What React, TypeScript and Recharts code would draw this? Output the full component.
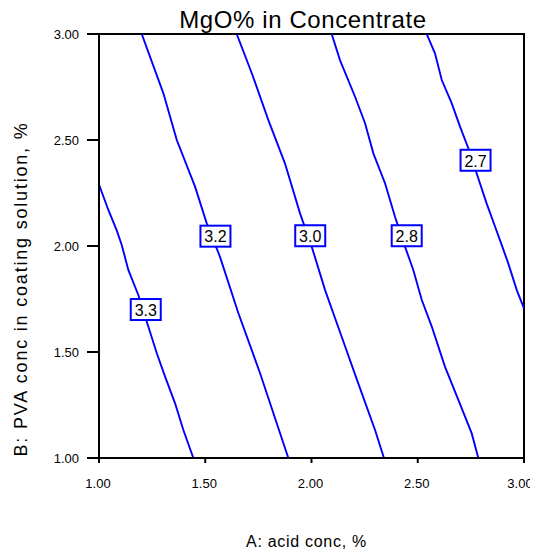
import React from "react";
import {
  ComposedChart,
  Line,
  XAxis,
  YAxis,
  Scatter,
  ReferenceArea,
  Label,
} from "recharts";

// ---- data ----
const xTicks = [1.0, 1.5, 2.0, 2.5, 3.0];
const yTicks = [1.0, 1.5, 2.0, 2.5, 3.0];

const title = "MgO% in Concentrate";
const xLabel = "A: acid conc, %";
const yLabel = "B: PVA conc in coating solution, %";

const contour33 = [
  { a: 1.0, b: 2.29 }, { a: 1.044, b: 2.17 }, { a: 1.083, b: 2.075 },
  { a: 1.107, b: 2.005 }, { a: 1.138, b: 1.887 }, { a: 1.185, b: 1.769 },
  { a: 1.232, b: 1.62 }, { a: 1.272, b: 1.494 }, { a: 1.311, b: 1.384 },
  { a: 1.358, b: 1.258 }, { a: 1.397, b: 1.132 }, { a: 1.444, b: 1.0 },
];
const contour32 = [
  { a: 1.201, b: 3.0 }, { a: 1.303, b: 2.72 }, { a: 1.366, b: 2.5 },
  { a: 1.452, b: 2.28 }, { a: 1.507, b: 2.107 }, { a: 1.569, b: 1.95 },
  { a: 1.656, b: 1.683 }, { a: 1.758, b: 1.4 }, { a: 1.891, b: 1.0 },
];
const contour30 = [
  { a: 1.648, b: 3.0 }, { a: 1.719, b: 2.815 }, { a: 1.797, b: 2.594 },
  { a: 1.875, b: 2.39 }, { a: 1.946, b: 2.154 }, { a: 2.001, b: 1.997 },
  { a: 2.064, b: 1.792 }, { a: 2.142, b: 1.572 }, { a: 2.22, b: 1.352 },
  { a: 2.299, b: 1.132 }, { a: 2.341, b: 1.0 },
];
const contour28 = [
  { a: 2.095, b: 3.0 }, { a: 2.134, b: 2.877 }, { a: 2.205, b: 2.704 },
  { a: 2.252, b: 2.579 }, { a: 2.291, b: 2.437 }, { a: 2.346, b: 2.296 },
  { a: 2.393, b: 2.138 }, { a: 2.44, b: 1.997 }, { a: 2.479, b: 1.887 },
  { a: 2.519, b: 1.745 }, { a: 2.566, b: 1.62 }, { a: 2.628, b: 1.431 },
  { a: 2.691, b: 1.274 }, { a: 2.754, b: 1.116 }, { a: 2.785, b: 1.0 },
];
const contour27 = [
  { a: 2.542, b: 3.0 }, { a: 2.581, b: 2.909 }, { a: 2.613, b: 2.783 },
  { a: 2.66, b: 2.673 }, { a: 2.699, b: 2.563 }, { a: 2.738, b: 2.461 },
  { a: 2.777, b: 2.343 }, { a: 2.824, b: 2.201 }, { a: 2.864, b: 2.091 },
  { a: 2.895, b: 2.005 }, { a: 2.926, b: 1.918 }, { a: 2.966, b: 1.792 },
  { a: 3.0, b: 1.706 },
];
const contours = [contour33, contour32, contour30, contour28, contour27];

const contourLabels = [
  { a: 1.22, b: 1.698, text: "3.3" },
  { a: 1.548, b: 2.044, text: "3.2" },
  { a: 1.994, b: 2.046, text: "3.0" },
  { a: 2.448, b: 2.046, text: "2.8" },
  { a: 2.772, b: 2.402, text: "2.7" },
];

// ---- styles ----
const FONT = "'Liberation Sans', Arial, sans-serif";
const BLUE = "#0000ff";

const LabelBox = (props: any) => {
  const { cx, cy, payload } = props;
  if (cx == null || cy == null) return null;
  return (
    <g>
      <rect x={cx - 15} y={cy - 11} width={30} height={21} fill="#fff" stroke={BLUE} strokeWidth={2} />
      <text x={cx} y={cy} dy="0.36em" textAnchor="middle" fontFamily={FONT} fontSize={16} fill="#000">
        {payload.text}
      </text>
    </g>
  );
};

const XTick = (props: any) => {
  const { x, y, payload, index, visibleTicksCount } = props;
  const last = index === (visibleTicksCount ?? xTicks.length) - 1;
  return (
    <text
      x={x - (last ? 4 : 1)}
      y={y}
      dy="0.71em"
      textAnchor="middle"
      fontFamily={FONT}
      fontSize={13}
      fill="#000"
    >
      {Number(payload.value).toFixed(2)}
    </text>
  );
};

const XTitle = (props: any) => {
  const vb = props.viewBox || {};
  return (
    <text
      x={vb.x + vb.width / 2 - 5}
      y={vb.y + 88.7}
      textAnchor="middle"
      fontFamily={FONT}
      fontSize={16}
      letterSpacing={0.7}
      fill="#000"
    >
      {xLabel}
    </text>
  );
};

const YTitle = (props: any) => {
  const vb = props.viewBox || {};
  const cx = 19;
  const cy = vb.y + vb.height / 2 + 43;
  return (
    <text
      x={cx}
      y={cy}
      transform={`rotate(-90 ${cx} ${cy})`}
      textAnchor="middle"
      fontFamily={FONT}
      fontSize={18}
      letterSpacing={1.8}
      fill="#000"
    >
      {yLabel}
    </text>
  );
};

export default function App() {
  return (
    <div style={{ position: "relative", width: 530, height: 546 }}>
      <ComposedChart
        width={530}
        height={546}
        margin={{ top: 26, right: 14, bottom: 0, left: 0 }}
      >
        <XAxis
          type="number"
          dataKey="a"
          domain={[1, 3]}
          ticks={xTicks}
          interval={0}
          allowDataOverflow
          height={96}
          tickSize={5}
          tickMargin={16}
          tick={<XTick />}
          axisLine={{ stroke: "#000", strokeWidth: 2 }}
          tickLine={{ stroke: "#000", strokeWidth: 2 }}
        >
          <Label content={<XTitle />} />
        </XAxis>
        <YAxis
          type="number"
          dataKey="b"
          domain={[1, 3]}
          ticks={yTicks}
          interval={0}
          allowDataOverflow
          width={91}
          tickSize={12}
          tickMargin={8}
          tickFormatter={(v: number) => v.toFixed(2)}
          tick={{ fill: "#000", fontSize: 13, fontFamily: FONT }}
          axisLine={{ stroke: "#000", strokeWidth: 2 }}
          tickLine={{ stroke: "#000", strokeWidth: 2 }}
        >
          <Label content={<YTitle />} />
        </YAxis>
        {contours.map((c, i) => (
          <Line
            key={i}
            data={c}
            dataKey="b"
            type="linear"
            stroke={BLUE}
            strokeWidth={1.9}
            dot={false}
            activeDot={false}
            isAnimationActive={false}
          />
        ))}
        <ReferenceArea
          x1={1}
          x2={3}
          y1={1}
          y2={3}
          fill="none"
          stroke="#000"
          strokeWidth={2}
          ifOverflow="visible"
        />
        <Scatter
          data={contourLabels}
          dataKey="b"
          shape={<LabelBox />}
          isAnimationActive={false}
        />
      </ComposedChart>
      <svg
        width={530}
        height={60}
        style={{ position: "absolute", left: 0, top: 0, pointerEvents: "none", overflow: "visible" }}
      >
        <text
          x={295}
          y={20.3}
          textAnchor="middle"
          fontFamily={FONT}
          fontSize={24}
          letterSpacing={0.6}
          fill="#000"
        >
          {title}
        </text>
      </svg>
    </div>
  );
}
